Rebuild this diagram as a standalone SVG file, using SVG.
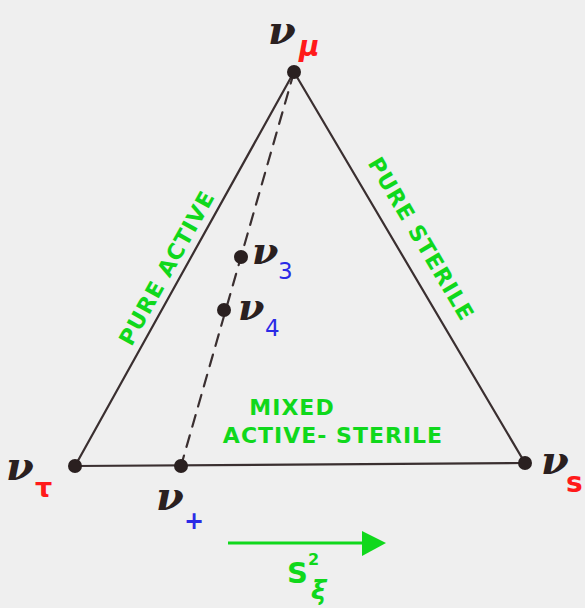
<svg xmlns="http://www.w3.org/2000/svg" width="585" height="608" viewBox="0 0 585 608">
<defs>
<style>
.edge{stroke:#3a2f30;stroke-width:2.2;fill:none;stroke-linecap:round}
.dot{fill:#2a2020}
.nu{font-family:"DejaVu Serif",serif;font-style:italic;font-weight:bold;fill:#2a2020;font-size:40px}
.sub{font-family:"DejaVu Sans",sans-serif;font-weight:bold}
.red{fill:#ff1a1a}
.blue{fill:#2a2ae6}
.green{font-family:"DejaVu Sans",sans-serif;fill:#10d81c;font-size:22px;font-weight:600;letter-spacing:1px}
</style>
</defs>
<rect width="585" height="608" fill="#efefef"/>
<g id="connectors">
<line class="edge" x1="294" y1="72" x2="75" y2="466"/>
<line class="edge" x1="294" y1="72" x2="525" y2="463"/>
<line class="edge" x1="75" y1="466" x2="525" y2="463"/>
<line class="edge" x1="294" y1="72" x2="181" y2="466" stroke-dasharray="12,9"/>
<line x1="228" y1="543" x2="362" y2="543" stroke="#10d81c" stroke-width="3"/>
<path d="M362,531 L386,543 L362,556 z" fill="#10d81c"/>
</g>
<g id="nu_mu">
<circle class="dot" cx="294" cy="72" r="7"/>
<text class="nu" x="268" y="44">ν</text>
<text class="sub red" x="299" y="56" style="font-size:28px;font-style:italic">μ</text>
</g>
<g id="nu_tau">
<circle class="dot" cx="75" cy="466" r="7"/>
<text class="nu" x="6" y="480">ν</text>
<text class="sub red" x="35" y="497" style="font-size:27px">τ</text>
</g>
<g id="nu_s">
<circle class="dot" cx="525" cy="463" r="7"/>
<text class="nu" x="541" y="474">ν</text>
<text class="sub red" x="566" y="492" style="font-size:28px">s</text>
</g>
<g id="nu_plus">
<circle class="dot" cx="181" cy="466" r="7"/>
<text class="nu" x="156" y="510">ν</text>
<text class="sub blue" x="184" y="529" style="font-size:24px">+</text>
</g>
<g id="nu_3">
<circle class="dot" cx="241" cy="257" r="7"/>
<text class="nu" x="252" y="264" style="font-size:38px">ν</text>
<text class="sub blue" x="278" y="279" style="font-size:23px;font-weight:normal">3</text>
</g>
<g id="nu_4">
<circle class="dot" cx="224" cy="310" r="7"/>
<text class="nu" x="238" y="320" style="font-size:38px">ν</text>
<text class="sub blue" x="265" y="336" style="font-size:23px;font-weight:normal">4</text>
</g>
<g id="labels">
<text class="green" transform="translate(167,268) rotate(-60.9)" text-anchor="middle" dominant-baseline="central">PURE ACTIVE</text>
<text class="green" transform="translate(421,239) rotate(59.4)" text-anchor="middle" dominant-baseline="central">PURE STERILE</text>
<text class="green" x="292" y="415" text-anchor="middle">MIXED</text>
<text class="green" x="333" y="443" text-anchor="middle">ACTIVE- STERILE</text>
<text class="green" x="287" y="583" style="font-size:29px;letter-spacing:0">S</text>
<text class="green" x="308" y="565" style="font-size:16px;letter-spacing:0">2</text>
<text class="green" x="311" y="599" style="font-size:26px;letter-spacing:0;font-style:italic">ξ</text>
</g>
</svg>
